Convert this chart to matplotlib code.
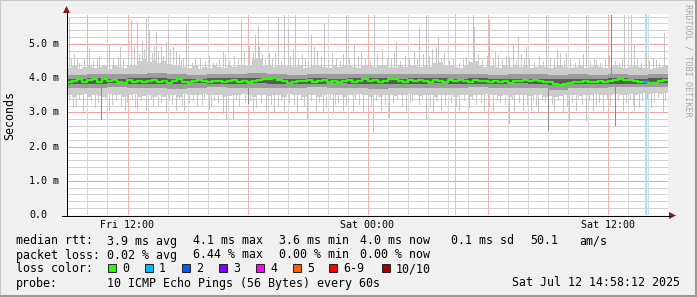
import matplotlib
matplotlib.use('Agg')
import matplotlib.pyplot as plt
from matplotlib.patches import Rectangle, Polygon
from matplotlib.lines import Line2D
import numpy as np

W, H = 697, 297

# --- datos (horas desde Fri 09:00, valores en ms) ---
# mediana cada 15 minutos
median = [3.90, 3.93, 3.99, 3.90, 3.95, 3.97, 3.90, 3.98, 3.92, 3.95,
          3.90, 3.87, 3.95, 3.90, 3.93, 3.90, 3.93, 3.95, 3.90, 3.93,
          3.87, 3.93, 3.99, 3.90, 3.88, 3.92, 3.95, 3.91, 3.90, 3.93,
          3.92, 3.90, 3.93, 3.95, 3.90, 3.92, 3.88, 3.93, 3.95, 3.98,
          3.97, 4.00, 3.96, 3.93, 3.85, 3.90, 3.93, 3.92, 3.95, 3.90,
          3.92, 3.95, 3.88, 3.93, 3.90, 3.92, 3.96, 3.90, 3.93, 3.97,
          3.92, 3.95, 3.90, 3.93, 3.97, 3.99, 3.93, 3.90, 3.95, 3.92,
          3.96, 3.93, 3.90, 3.95, 3.92, 3.90, 3.94, 3.92, 3.95, 3.93,
          3.90, 3.95, 3.93, 3.92, 3.88, 3.93, 3.90, 3.93, 3.85, 3.93,
          3.93, 3.95, 3.92, 3.95, 3.93, 3.90, 3.88, 3.82, 3.80, 3.83,
          3.87, 3.90, 3.88, 3.92, 3.90, 3.88, 3.93, 3.90, 3.92, 3.95,
          3.97, 3.95, 3.96, 3.93, 3.90, 3.88, 3.87, 3.86, 3.93, 3.95]

# humo claro (nucleo) cada 15 minutos
smoke_lo = [3.50, 3.45, 3.50, 3.55, 3.45, 3.50, 3.48, 3.45, 3.55, 3.50,
            3.52, 3.45, 3.50, 3.55, 3.45, 3.48, 3.50, 3.45, 3.50, 3.45,
            3.52, 3.50, 3.45, 3.55, 3.50, 3.52, 3.50, 3.55, 3.52, 3.50,
            3.50, 3.45, 3.48, 3.52, 3.50, 3.55, 3.50, 3.45, 3.52, 3.50,
            3.48, 3.52, 3.50, 3.45, 3.55, 3.50, 3.52, 3.45, 3.50, 3.52,
            3.45, 3.50, 3.55, 3.52, 3.50, 3.45, 3.52, 3.50, 3.55, 3.52,
            3.45, 3.50, 3.45, 3.52, 3.50, 3.48, 3.52, 3.50, 3.55, 3.50,
            3.48, 3.50, 3.52, 3.45, 3.50, 3.52, 3.50, 3.45, 3.52, 3.50,
            3.45, 3.52, 3.50, 3.55, 3.50, 3.52, 3.48, 3.50, 3.45, 3.50,
            3.52, 3.50, 3.48, 3.52, 3.50, 3.45, 3.48, 3.45, 3.48, 3.50,
            3.52, 3.50, 3.48, 3.52, 3.50, 3.55, 3.52, 3.50, 3.52, 3.55,
            3.52, 3.50, 3.55, 3.52, 3.55, 3.58, 3.55, 3.58, 3.55, 3.58]
smoke_hi = [4.30, 4.35, 4.28, 4.32, 4.38, 4.30, 4.32, 4.35, 4.28, 4.40,
            4.32, 4.30, 4.35, 4.40, 4.50, 4.55, 4.48, 4.52, 4.45, 4.50,
            4.42, 4.38, 4.35, 4.32, 4.30, 4.35, 4.28, 4.32, 4.30, 4.35,
            4.32, 4.30, 4.35, 4.32, 4.38, 4.35, 4.40, 4.60, 4.55, 4.38,
            4.35, 4.32, 4.38, 4.35, 4.40, 4.32, 4.35, 4.30, 4.32, 4.38,
            4.35, 4.32, 4.30, 4.35, 4.32, 4.38, 4.35, 4.32, 4.30, 4.35,
            4.35, 4.32, 4.38, 4.35, 4.32, 4.30, 4.35, 4.32, 4.38, 4.35,
            4.32, 4.35, 4.32, 4.45, 4.48, 4.40, 4.35, 4.32, 4.30, 4.35,
            4.48, 4.50, 4.38, 4.32, 4.35, 4.32, 4.30, 4.35, 4.32, 4.38,
            4.32, 4.35, 4.30, 4.32, 4.35, 4.32, 4.30, 4.32, 4.35, 4.32,
            4.30, 4.32, 4.35, 4.30, 4.32, 4.35, 4.32, 4.30, 4.32, 4.35,
            4.32, 4.30, 4.32, 4.35, 4.32, 4.30, 4.28, 4.30, 4.32, 4.35]

# bandas interiores cada hora
mid_lo = [3.72, 3.70, 3.73, 3.71, 3.72, 3.68, 3.72, 3.73, 3.71, 3.72,
          3.70, 3.72, 3.73, 3.71, 3.72, 3.69, 3.72, 3.70, 3.72, 3.71,
          3.73, 3.72, 3.70, 3.71, 3.66, 3.70, 3.70, 3.73, 3.74, 3.73]
mid_hi = [4.10, 4.12, 4.11, 4.13, 4.14, 4.11, 4.10, 4.11, 4.12, 4.14,
          4.11, 4.10, 4.12, 4.11, 4.11, 4.13, 4.11, 4.12, 4.13, 4.11,
          4.12, 4.10, 4.11, 4.11, 4.09, 4.11, 4.10, 4.12, 4.10, 4.11]
dark_lo = [3.84, 3.83, 3.85, 3.84, 3.84, 3.83, 3.85, 3.84, 3.84, 3.85,
           3.83, 3.84, 3.84, 3.85, 3.84, 3.83, 3.84, 3.84, 3.85, 3.84,
           3.84, 3.84, 3.85, 3.84, 3.79, 3.82, 3.84, 3.83, 3.84, 3.85]
dark_hi = [3.99, 4.00, 3.99, 4.01, 4.00, 3.99, 3.99, 4.01, 4.00, 4.02,
           3.99, 3.99, 4.00, 3.99, 4.01, 4.00, 3.99, 4.01, 4.00, 3.99,
           4.00, 3.99, 3.99, 3.99, 3.97, 3.99, 3.98, 4.00, 3.99, 4.00]

# picos altos (un ping suelto)
up_h = [0.08, 0.50, 0.98, 1.50, 2.11, 2.53, 3.19, 3.49, 3.74, 3.94,
        4.11, 4.44, 4.69, 4.94, 5.03, 5.44, 5.69, 5.94, 6.50, 7.27,
        7.78, 8.69, 9.40, 9.52, 10.08, 10.52, 10.85, 11.02, 11.40, 12.18,
        12.35, 12.85, 13.93, 14.34, 15.34, 16.42, 17.59, 17.92, 18.42, 18.50,
        19.92, 20.25, 20.33, 21.08, 21.50, 22.08, 22.27, 22.50, 22.91, 23.91,
        24.46, 24.91, 25.91, 26.41, 27.82, 28.16, 28.32, 28.90, 29.40, 29.82]
up_v = [5.80, 4.55, 5.85, 4.60, 5.00, 4.63, 5.70, 5.65, 5.10, 5.75,
        5.40, 5.36, 4.92, 5.07, 5.45, 4.77, 4.53, 5.60, 4.40, 4.43,
        4.80, 5.70, 5.27, 5.50, 4.73, 5.80, 5.85, 5.45, 5.85, 5.27,
        4.92, 5.60, 5.85, 5.00, 5.85, 5.07, 5.50, 5.85, 4.92, 5.17,
        4.63, 5.85, 5.50, 5.70, 4.68, 4.63, 5.00, 5.17, 4.92, 5.85,
        4.82, 4.73, 5.85, 4.53, 5.85, 5.85, 5.00, 4.73, 4.53, 5.31]
down_h = [0.28, 0.78, 2.10, 2.91, 3.50, 3.94, 4.30, 4.94, 5.44, 5.84,
          6.50, 7.09, 7.78, 7.94, 8.27, 9.30, 9.94, 10.35, 10.85, 11.50,
          12.00, 12.43, 12.77, 13.27, 13.77, 14.27, 14.77, 15.26, 15.67, 16.09,
          16.92, 17.92, 18.25, 18.67, 19.58, 20.08, 20.83, 21.25, 22.08, 22.33,
          22.75, 23.16, 23.50, 24.33, 24.75, 25.08, 25.41, 25.91, 26.24, 26.74,
          27.74, 28.32, 28.57, 29.15, 29.74]
down_v = [3.17, 3.07, 3.07, 3.07, 3.10, 3.07, 3.20, 3.07, 3.07, 3.07,
          3.20, 3.10, 2.97, 2.82, 2.82, 3.07, 3.07, 2.97, 3.07, 3.07,
          2.82, 3.07, 3.00, 2.97, 3.07, 3.07, 3.00, 2.43, 3.07, 2.87,
          3.07, 2.82, 3.07, 3.07, 3.07, 3.17, 3.07, 3.07, 2.68, 3.07,
          3.07, 3.07, 2.97, 3.07, 3.00, 2.77, 3.07, 2.77, 3.07, 3.07,
          3.07, 3.07, 3.17, 3.17, 3.00]

# picos cortos (textura del humo)
short_up_h = [0.20, 0.35, 0.62, 0.85, 1.10, 1.28, 1.62, 1.85, 2.02, 2.30,
              2.66, 2.80, 3.05, 3.32, 3.60, 3.82, 4.02, 4.22, 4.35, 4.56,
              4.80, 5.15, 5.30, 5.58, 5.80, 6.05, 6.22, 6.40, 6.66, 6.90,
              7.10, 7.42, 7.60, 7.90, 8.10, 8.35, 8.52, 8.85, 9.10, 9.28,
              9.60, 9.75, 9.90, 10.22, 10.40, 10.70, 11.15, 11.28, 11.55, 11.75,
              11.90, 12.05, 12.50, 12.68, 13.05, 13.22, 13.45, 13.62, 13.80, 14.10,
              14.52, 14.70, 14.90, 15.10, 15.48, 15.70, 15.95, 16.15, 16.30, 16.60,
              16.85, 17.05, 17.30, 17.45, 17.75, 18.05, 18.20, 18.65, 18.80, 19.05,
              19.25, 19.55, 19.75, 20.05, 20.50, 20.70, 20.95, 21.25, 21.35, 21.70,
              21.90, 22.40, 22.65, 22.80, 23.05, 23.30, 23.55, 23.75, 24.10, 24.30,
              24.60, 24.80, 25.10, 25.35, 25.55, 25.75, 26.10, 26.30, 26.60, 26.85,
              27.05, 27.35, 27.55, 27.70, 28.00, 28.45, 28.65, 29.05, 29.25, 29.55]
short_up_v = [4.55, 4.70, 4.45, 4.60, 4.85, 4.50, 4.65, 4.40, 4.75, 4.55,
              4.90, 4.60, 4.80, 4.95, 4.70, 4.85, 4.90, 4.75, 4.95, 4.80,
              4.65, 4.85, 4.90, 4.70, 4.60, 4.50, 4.45, 4.60, 4.55, 4.50,
              4.65, 4.45, 4.55, 4.70, 4.50, 4.65, 4.60, 4.80, 4.95, 4.75,
              4.90, 4.70, 4.55, 4.60, 4.75, 4.50, 4.65, 4.85, 4.55, 4.70,
              4.60, 4.50, 4.80, 4.65, 4.55, 4.75, 4.60, 4.50, 4.70, 4.55,
              4.65, 4.80, 4.60, 4.50, 4.70, 4.85, 4.60, 4.55, 4.75, 4.50,
              4.65, 4.60, 4.80, 4.55, 4.70, 4.65, 4.85, 4.60, 4.75, 4.50,
              4.55, 4.45, 4.60, 4.50, 4.70, 4.55, 4.65, 4.60, 4.80, 4.55,
              4.65, 4.50, 4.70, 4.60, 4.55, 4.45, 4.65, 4.50, 4.60, 4.55,
              4.75, 4.50, 4.60, 4.45, 4.55, 4.70, 4.50, 4.60, 4.45, 4.55,
              4.65, 4.50, 4.45, 4.60, 4.50, 4.55, 4.45, 4.50, 4.60, 4.45]
short_down_h = [0.12, 0.45, 0.60, 1.02, 1.22, 1.40, 1.55, 1.92, 2.25, 2.45,
                2.70, 3.00, 3.25, 3.40, 3.70, 4.05, 4.18, 4.52, 4.70, 5.10,
                5.25, 5.60, 5.72, 6.10, 6.30, 6.72, 6.85, 7.20, 7.35, 7.55,
                8.05, 8.45, 8.60, 8.90, 9.15, 9.45, 9.70, 10.05, 10.20, 10.55,
                10.68, 11.10, 11.32, 11.70, 11.85, 12.20, 12.60, 12.95, 13.12, 13.40,
                13.55, 13.95, 14.05, 14.40, 14.60, 15.00, 15.15, 15.40, 15.85, 16.25,
                16.45, 16.70, 17.10, 17.20, 17.55, 17.70, 18.10, 18.40, 18.85, 19.15,
                19.40, 19.80, 20.20, 20.40, 20.65, 21.05, 21.45, 21.60, 21.85, 22.20,
                22.55, 22.95, 23.25, 23.40, 23.70, 23.85, 24.20, 24.50, 24.95, 25.20,
                25.50, 25.70, 26.05, 26.40, 26.55, 26.95, 27.10, 27.50, 27.90, 28.10,
                28.25, 28.70, 28.95, 29.30, 29.50, 29.85]
short_down_v = [3.35, 3.20, 3.40, 3.25, 3.35, 3.15, 3.30, 3.40, 3.25, 3.35,
                3.20, 3.30, 3.40, 3.15, 3.35, 3.25, 3.40, 3.20, 3.30, 3.35,
                3.25, 3.40, 3.20, 3.30, 3.35, 3.25, 3.40, 3.20, 3.35, 3.30,
                3.25, 3.40, 3.20, 3.30, 3.35, 3.15, 3.30, 3.40, 3.25, 3.20,
                3.35, 3.30, 3.25, 3.40, 3.20, 3.35, 3.30, 3.15, 3.40, 3.25,
                3.30, 3.20, 3.35, 3.40, 3.25, 3.30, 3.20, 3.35, 3.25, 3.30,
                3.40, 3.20, 3.30, 3.35, 3.25, 3.40, 3.20, 3.35, 3.25, 3.30,
                3.20, 3.35, 3.40, 3.25, 3.30, 3.20, 3.35, 3.30, 3.25, 3.40,
                3.30, 3.25, 3.35, 3.20, 3.40, 3.30, 3.25, 3.35, 3.20, 3.30,
                3.40, 3.25, 3.35, 3.20, 3.30, 3.40, 3.25, 3.35, 3.30, 3.40,
                3.25, 3.35, 3.40, 3.30, 3.45, 3.35]

# picos oscuros (varios pings)
dark_spike_h = [1.70, 9.02, 24.00, 27.16, 27.33]
dark_spike_lo = [2.82, 3.27, 2.48, 3.80, 2.63]
dark_spike_hi = [4.00, 4.00, 4.00, 5.85, 4.00]

# perdida de paquetes
loss_h = [19.38, 28.85]

y_ticks = [0, 1, 2, 3, 4, 5]
y_labels = ['0.0', '1.0 m', '2.0 m', '3.0 m', '4.0 m', '5.0 m']
x_ticks = [3, 15, 27]
x_labels = ['Fri 12:00', 'Sat 00:00', 'Sat 12:00']

loss_colors = ['#26ff00', '#00b8ff', '#0059ff', '#7e00ff', '#ff00ff', '#ff5e00', '#ff0000', '#a00000']
loss_names = ['0', '1', '2', '3', '4', '5', '6-9', '10/10']
loss_box_x = [108, 145, 182, 219, 256, 293, 329, 382]

MONO = 'DejaVu Sans Mono'


def fx(x):
    return x / W


def fy(y):
    return 1 - y / H


fig = plt.figure(figsize=(W / 100, H / 100), dpi=100)
fig.patch.set_facecolor('#f0f0f0')

# marco
fig.add_artist(Rectangle((0, 0), 1, 1, transform=fig.transFigure, fill=False,
                         edgecolor='#c8c8c8', lw=1.5))
fig.add_artist(Line2D([fx(0), fx(W)], [fy(296), fy(296)], color='#9a9a9a', lw=2.2))
fig.add_artist(Line2D([fx(696), fx(696)], [fy(0), fy(H)], color='#9a9a9a', lw=2.2))

top_px = 13.5
ppm = 34.2  # pixels por ms
ymax = (215 - top_px) / ppm
ax = fig.add_axes([fx(67), fy(215), fx(668) - fx(67), fy(top_px) - fy(215)])
ax.set_facecolor('white')
ax.set_xlim(0, 30)
ax.set_ylim(0, ymax)
ax.set_xticks([])
ax.set_yticks([])
for s in ax.spines.values():
    s.set_visible(False)

# rejilla punteada
minor_y = [k / 5 for k in range(1, 30) if k % 5 != 0]
minor_x = [h + 0.02 for h in range(1, 30) if (h - 3) % 6 != 0]
major_x = [h + 0.02 for h in range(3, 30, 6)]
ax.hlines(minor_y, 0, 30, colors='#d2d2d2', lw=0.72, linestyles=[(0, (1, 1))], antialiased=False, zorder=1)
ax.hlines([1, 2, 3, 4, 5], 0, 30, colors='#eea4a4', lw=0.72, linestyles=[(0, (1, 1))], antialiased=False, zorder=1)
ax.vlines(minor_x, 0, ymax, colors='#d8d8d8', lw=0.72, linestyles=[(0, (1, 1))], antialiased=False, zorder=1)
ax.vlines(major_x, 0, ymax, colors='#f2b4b4', lw=0.72, linestyles=[(0, (1, 1))], antialiased=False, zorder=1)

# perdida: franjas azul claro (1 px y 2 px)
ax.axvspan(loss_h[0], loss_h[0] + 0.06, color='#9cdcfa', lw=0, antialiased=False, zorder=2)
ax.axvspan(loss_h[1], loss_h[1] + 0.1, color='#a6e0fa', lw=0, zorder=2)

# humo
t15 = np.arange(len(median) + 1) / 4
t60 = np.arange(len(mid_lo) + 1)
ax.vlines(up_h, 3.9, up_v, colors='#c4c4c4', lw=0.72, antialiased=False, zorder=3)
ax.vlines(down_h, down_v, 3.9, colors='#c4c4c4', lw=0.72, antialiased=False, zorder=3)
ax.vlines(short_up_h, 3.9, short_up_v, colors='#c8c8c8', lw=0.72, antialiased=False, zorder=3)
ax.vlines(short_down_h, short_down_v, 3.9, colors='#c8c8c8', lw=0.72, antialiased=False, zorder=3)
ax.fill_between(t15, smoke_lo + smoke_lo[-1:], smoke_hi + smoke_hi[-1:], step='post',
                color='#cdcdcd', lw=0, zorder=4)
ax.vlines(dark_spike_h, dark_spike_lo, dark_spike_hi, colors='#8a8a8a', lw=0.72, antialiased=False, zorder=5)
ax.fill_between(t60, mid_lo + mid_lo[-1:], mid_hi + mid_hi[-1:], step='post',
                color='#9c9c9c', lw=0, zorder=5)
ax.fill_between(t60, dark_lo + dark_lo[-1:], dark_hi + dark_hi[-1:], step='post',
                color='#5a5a5a', lw=0, zorder=6)

# mediana
ax.step(t15, median + median[-1:], where='post', color='#26ff00', lw=1.6, zorder=7)
i = int(loss_h[1] * 4)
ax.plot([loss_h[1] - 0.05, loss_h[1] + 0.1], [median[i], median[i]], color='#00b8ff', lw=1.6, zorder=8)

# ejes con flechas
fig.add_artist(Line2D([fx(62), fx(670)], [fy(215.5), fy(215.5)], color='black', lw=0.72, antialiased=False))
fig.add_artist(Line2D([fx(66.5), fx(66.5)], [fy(215.5), fy(12)], color='black', lw=0.72, antialiased=False))
fig.add_artist(Polygon([[fx(669), fy(212)], [fx(669), fy(219)], [fx(676), fy(215.5)]],
                       transform=fig.transFigure, color='#8b1a1a', lw=0))
fig.add_artist(Polygon([[fx(63), fy(13)], [fx(70), fy(13)], [fx(66.5), fy(6)]],
                       transform=fig.transFigure, color='#8b1a1a', lw=0))

# etiquetas de ejes
for v, lab in zip(y_ticks, y_labels):
    fig.text(fx(29), fy(215 - v * ppm), lab, family=MONO, fontsize=7.2, ha='left', va='center')
for h, lab in zip(x_ticks, x_labels):
    fig.text(fx(67 + h * 601 / 30), fy(224.5), lab, family=MONO, fontsize=7.2, ha='center', va='center')
fig.text(fx(10), fy(115), 'Seconds', family=MONO, fontsize=8.4, rotation=90, ha='center', va='center')
fig.text(fx(688), fy(60), 'RRDTOOL / TOBI OETIKER', family=MONO, fontsize=6.1, rotation=270,
         ha='center', va='center', color='#a8a8a8')

# leyenda
line1 = [('median rtt:', 16), ('3.9 ms avg', 107), ('4.1 ms max', 193), ('3.6 ms min', 279),
         ('4.0 ms now', 360), ('0.1 ms sd', 451), ('50.1', 530), ('am/s', 579)]
line2 = [('packet loss:', 16), ('0.02 % avg', 107), ('6.44 % max', 193), ('0.00 % min', 279),
         ('0.00 % now', 360)]
for txt, x in line1:
    fig.text(fx(x), fy(241), txt, family=MONO, fontsize=8.4, va='center')
for txt, x in line2:
    fig.text(fx(x), fy(255), txt, family=MONO, fontsize=8.4, va='center')
fig.text(fx(16), fy(269), 'loss color:', family=MONO, fontsize=8.4, va='center')
for c, name, x in zip(loss_colors, loss_names, loss_box_x):
    fig.add_artist(Rectangle((fx(x), fy(272)), 8 / W, 8 / H, transform=fig.transFigure,
                             facecolor=c, edgecolor='#202020', lw=0.7))
    fig.text(fx(x + 14), fy(269), name, family=MONO, fontsize=8.4, va='center')
fig.text(fx(16), fy(283), 'probe:', family=MONO, fontsize=8.4, va='center')
fig.text(fx(107), fy(283), '10 ICMP Echo Pings (56 Bytes) every 60s', family=MONO, fontsize=8.4, va='center')
fig.text(fx(680), fy(283), 'Sat Jul 12 14:58:12 2025', family=MONO, fontsize=8.4, va='center', ha='right')

plt.savefig('out.png', dpi=100, facecolor=fig.get_facecolor())
